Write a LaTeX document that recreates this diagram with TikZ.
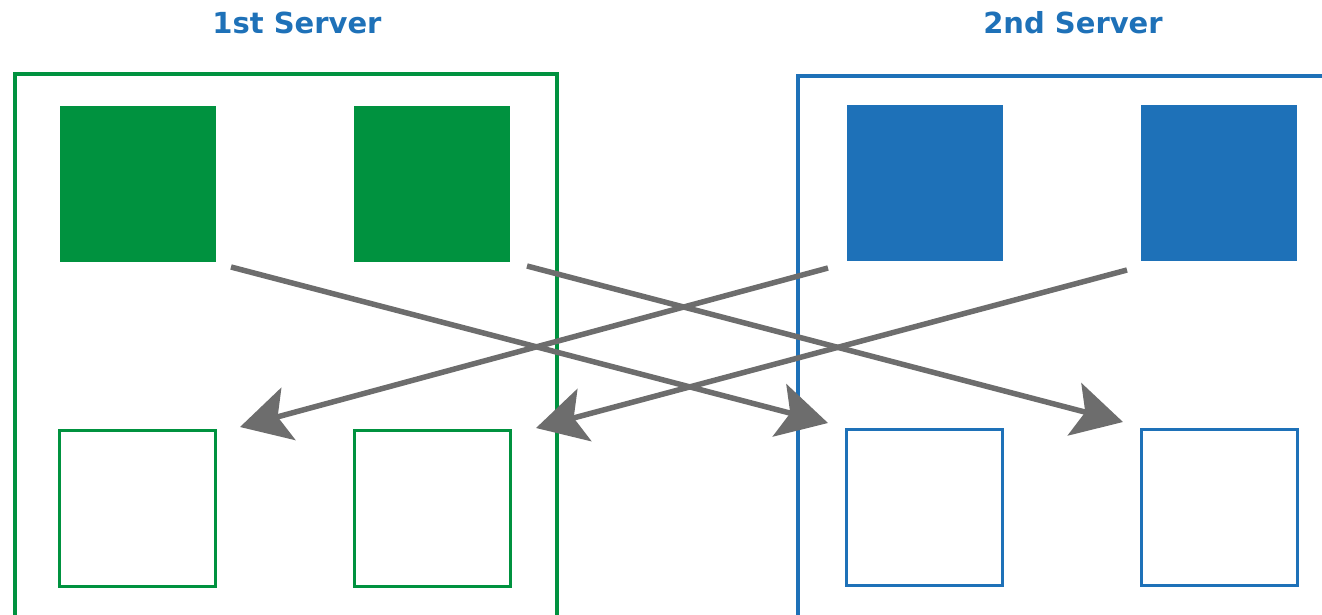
\documentclass[tikz,border=0pt]{standalone}
\usepackage{fontspec}
\setmainfont{DejaVu Sans}
\usetikzlibrary{arrows.meta}
\definecolor{sgreen}{HTML}{00923F}
\definecolor{sblue}{HTML}{1E71B8}
\definecolor{agray}{HTML}{6D6D6D}
\tikzset{
  title/.style={font=\bfseries\fontsize{29}{34}\selectfont, text=sblue, inner sep=0pt},
  server/.style={line width=3.2pt},
  fillbox/.style={minimum width=156pt, minimum height=156pt, inner sep=0pt, draw=none},
  emptybox/.style={minimum width=156pt, minimum height=156pt, inner sep=0pt, line width=3pt},
  flow/.style={line width=5.5pt, draw=agray, -{Stealth[length=50pt, width=54pt, inset=11pt]}},
}
\begin{document}
\begin{tikzpicture}[x=1pt, y=-1pt]
\useasboundingbox (0,0) rectangle (1322,614);
% titles
\node[title] (t1) at (297,23) {1st Server};
\node[title] (t2) at (1073,23) {2nd Server};
% server frames (open at the picture edges)
\draw[server, draw=sgreen] (15,620) -- (15,74) -- (557,74) -- (557,620);
\draw[server, draw=sblue] (798,620) -- (798,76) -- (1330,76);
% filled squares
\node[fillbox, fill=sgreen] (g1) at (138,184) {};
\node[fillbox, fill=sgreen] (g2) at (432,184) {};
\node[fillbox, fill=sblue] (b1) at (925,183) {};
\node[fillbox, fill=sblue] (b2) at (1219,183) {};
% empty squares
\node[emptybox, draw=sgreen] (eg1) at (137.5,508) {};
\node[emptybox, draw=sgreen] (eg2) at (432.5,508) {};
\node[emptybox, draw=sblue] (eb1) at (924.5,507) {};
\node[emptybox, draw=sblue] (eb2) at (1219.5,507) {};
% arrow ends
\coordinate (s1) at (231,267);
\coordinate (e1) at (828,423);
\coordinate (s2) at (527,266);
\coordinate (e2) at (1123,422);
\coordinate (s3) at (828,268);
\coordinate (e3) at (240,427);
\coordinate (s4) at (1127,270);
\coordinate (e4) at (536,428);
\draw[flow] (s1) -- (e1);
\draw[flow] (s2) -- (e2);
\draw[flow] (s3) -- (e3);
\draw[flow] (s4) -- (e4);
\end{tikzpicture}
\end{document}
